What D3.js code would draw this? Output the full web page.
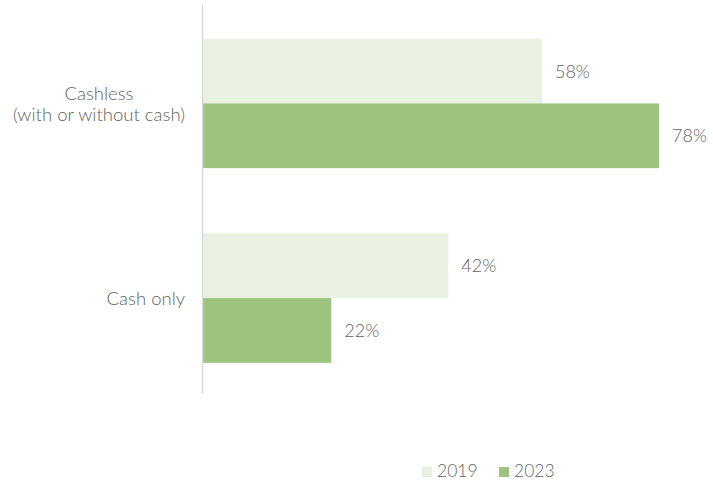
<!DOCTYPE html>
<html>
<head>
<meta charset="utf-8">
<script src="https://cdn.jsdelivr.net/npm/d3@7"></script>
<style>
  html, body { margin: 0; padding: 0; background: #fff; }
  svg { display: block; font-family: Lato, "Open Sans", sans-serif; font-weight: 300; }
</style>
</head>
<body>
<svg id="chart" width="713" height="482"></svg>
<script>
const categories = ["Cashless\n(with or without cash)", "Cash only"];
const seriesNames = ["2019", "2023"];
const values2019 = [58, 42];
const values2023 = [78, 22];
const colors = ["#e9f2e1", "#9cc47f"];

const series = [values2019, values2023];
const svg = d3.select("#chart");
const axisX = 202.5;
const x = d3.scaleLinear().domain([0, 78]).range([axisX, 659]);
const y = d3.scaleBand().domain(categories).range([6, 395.5]).paddingInner(0.335).paddingOuter(0.168);
const sub = d3.scaleBand().domain(seriesNames).range([0, y.bandwidth()]);

const textColor = "#636363";

// bars
categories.forEach((cat, ci) => {
  series.forEach((vals, si) => {
    const yy = y(cat) + sub(seriesNames[si]);
    svg.append("rect")
      .attr("x", x(0))
      .attr("y", yy)
      .attr("width", x(vals[ci]) - x(0))
      .attr("height", sub.bandwidth())
      .attr("fill", colors[si]);
    svg.append("text")
      .attr("x", x(vals[ci]) + 13)
      .attr("y", yy + sub.bandwidth() / 2 + 6.5)
      .attr("fill", textColor)
      .attr("font-size", 18)
      .text(vals[ci] + "%");
  });
});

// axis line
svg.append("line")
  .attr("x1", axisX).attr("x2", axisX)
  .attr("y1", 5).attr("y2", 394)
  .attr("stroke", "#d9d9d9").attr("stroke-width", 1.5);

// category labels
categories.forEach(cat => {
  const lines = cat.split("\n");
  const cy = y(cat) + y.bandwidth() / 2;
  const g = svg.append("g");
  const texts = lines.map((ln, i) => g.append("text")
    .attr("y", cy + 7 + (i - (lines.length - 1) / 2) * 21)
    .attr("fill", textColor)
    .attr("font-size", 18.5)
    .attr("text-anchor", "middle")
    .text(ln));
  const maxW = d3.max(texts, t => t.node().getComputedTextLength());
  texts.forEach(t => t.attr("x", 185 - maxW / 2));
});

// legend
const legendX = [422, 499];
seriesNames.forEach((name, i) => {
  svg.append("rect")
    .attr("x", legendX[i]).attr("y", 467)
    .attr("width", 10).attr("height", 10)
    .attr("fill", colors[i]);
  svg.append("text")
    .attr("x", legendX[i] + 15).attr("y", 477)
    .attr("fill", textColor)
    .attr("font-size", 17.5)
    .text(name);
});
</script>
</body>
</html>
